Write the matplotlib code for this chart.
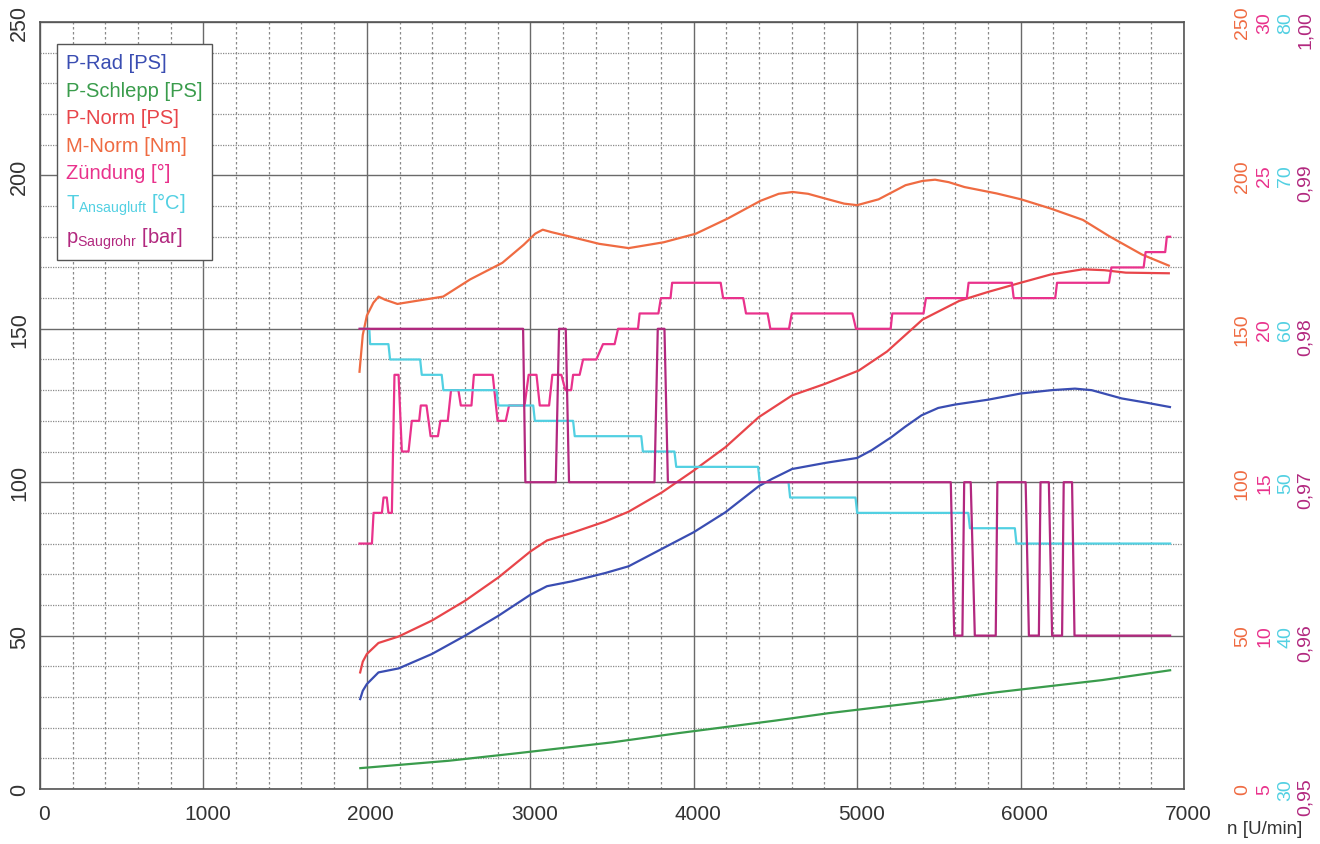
import matplotlib.pyplot as plt
import matplotlib.transforms as mtransforms
import numpy as np

# ---- data read from the dyno sheet ----
rpm_rad = [1959, 1975, 2000, 2071, 2194, 2398, 2602, 2806, 3000, 3102, 3255, 3459, 3602,
           3806, 4000, 4194, 4398, 4480, 4602, 4806, 5000, 5088, 5210, 5292, 5394, 5496,
           5598, 5802, 6000, 6190, 6333, 6435, 6619, 6761, 6914]
p_rad = [29.3, 32.0, 34.2, 38.0, 39.3, 44.0, 50.0, 56.5, 63.3, 66.1, 67.7, 70.4, 72.6,
         78.3, 83.7, 90.2, 98.7, 101.1, 104.3, 106.3, 107.9, 110.4, 114.7, 118.0, 121.8, 124.2,
         125.3, 126.9, 128.9, 130.0, 130.5, 130.0, 127.3, 126.0, 124.5]

rpm_schlepp = [1960, 2500, 2927, 3500, 3905, 4500, 4823, 5500, 5801, 6500, 6915]
p_schlepp = [6.8, 9.2, 11.7, 15.2, 18.2, 22.3, 24.7, 29.0, 31.2, 35.5, 38.7]

rpm_norm = [1959, 1975, 2000, 2071, 2194, 2398, 2602, 2806, 3000, 3102, 3255, 3459, 3602,
            3806, 4000, 4194, 4398, 4602, 4806, 5010, 5183, 5400, 5625, 5800, 5986, 6184,
            6381, 6513, 6644, 6907]
p_norm = [38.0, 41.5, 44.0, 47.6, 49.7, 54.9, 61.4, 69.0, 77.4, 81.0, 83.5, 87.2, 90.4,
          96.7, 103.8, 111.4, 121.2, 128.3, 132.1, 136.4, 142.6, 153.0, 159.1, 162.0, 164.8, 167.7,
          169.4, 169.1, 168.3, 168.1]

rpm_m = [1955, 1975, 2000, 2040, 2072, 2110, 2187, 2303, 2467, 2632, 2829, 2960, 3030,
         3076, 3130, 3224, 3421, 3602, 3816, 4013, 4210, 4408, 4520, 4605, 4700, 4802,
         4920, 5000, 5131, 5296, 5400, 5477, 5560, 5657, 5855, 6003, 6184, 6381, 6545,
         6743, 6907]
m_norm = [136.0, 148.0, 154.3, 158.5, 160.5, 159.5, 158.1, 159.1, 160.5, 166.1, 171.5, 177.4, 181.0,
          182.3, 181.5, 180.3, 177.7, 176.3, 178.2, 181.0, 186.0, 191.7, 194.0, 194.6, 194.0, 192.5,
          190.8, 190.3, 192.2, 196.8, 198.2, 198.6, 197.8, 196.2, 194.1, 192.2, 189.2, 185.5, 180.1,
          174.2, 170.6]

# step signals: (rpm from, rpm to, value)
zuendung = [(1955, 2031, 13.0), (2041, 2092, 14.0), (2102, 2122, 14.5), (2132, 2153, 14.0),
            (2169, 2194, 18.5), (2214, 2255, 16.0), (2275, 2320, 17.0), (2330, 2365, 17.5),
            (2390, 2435, 16.5), (2450, 2495, 17.0), (2515, 2560, 18.0), (2575, 2640, 17.5),
            (2655, 2770, 18.5), (2800, 2850, 17.0), (2870, 2965, 17.5), (2990, 3038, 18.5),
            (3058, 3115, 17.5), (3135, 3190, 18.5), (3215, 3250, 18.0), (3262, 3302, 18.5),
            (3323, 3404, 19.0), (3445, 3516, 19.5), (3537, 3659, 20.0), (3669, 3784, 20.5),
            (3799, 3858, 21.0), (3868, 4165, 21.5), (4180, 4303, 21.0), (4320, 4452, 20.5),
            (4469, 4583, 20.0), (4600, 4971, 20.5), (4993, 5205, 20.0), (5215, 5406, 20.5),
            (5421, 5671, 21.0), (5682, 5947, 21.5), (5958, 6212, 21.0), (6223, 6541, 21.5),
            (6556, 6753, 22.0), (6765, 6885, 22.5), (6895, 6915, 23.0)]

t_ansaug = [(1960, 2015, 60), (2020, 2132, 59), (2142, 2326, 58), (2336, 2458, 57),
            (2468, 2794, 56), (2804, 3018, 55), (3028, 3262, 54), (3272, 3679, 53),
            (3689, 3882, 52), (3893, 4394, 51), (4404, 4580, 50), (4590, 4990, 49),
            (5000, 5680, 48), (5690, 5965, 47), (5975, 6915, 46)]

p_saug = [(1955, 2956, 0.98), (2970, 3156, 0.97), (3176, 3217, 0.98), (3237, 3760, 0.97),
          (3780, 3821, 0.98), (3842, 5573, 0.97), (5594, 5644, 0.96), (5655, 5695, 0.97),
          (5720, 5848, 0.96), (5858, 6031, 0.97), (6051, 6112, 0.96), (6122, 6173, 0.97),
          (6193, 6254, 0.96), (6264, 6315, 0.97), (6330, 6915, 0.96)]

x_ticks = [0, 1000, 2000, 3000, 4000, 5000, 6000, 7000]

c_rad = '#3a4db2'
c_schlepp = '#3a9c4c'
c_norm = '#e8454a'
c_m = '#ef6b42'
c_z = '#e9328c'
c_t = '#52d0e2'
c_p = '#b2287f'


def steps(segs):
    xs, ys = [], []
    for a, b, v in segs:
        xs += [a, b]
        ys += [v, v]
    return xs, ys


plt.rcParams['font.family'] = ['Liberation Sans', 'DejaVu Sans']
plt.rcParams['mathtext.fontset'] = 'custom'
plt.rcParams['mathtext.rm'] = 'Liberation Sans'
plt.rcParams['mathtext.it'] = 'Liberation Sans:italic'

fig = plt.figure(figsize=(13.2, 8.45), dpi=100)
ax = fig.add_axes([40 / 1320, 55 / 845, 1144 / 1320, 767 / 845])

ax.set_xlim(0, 7000)
ax.set_ylim(0, 250)
ax.set_xticks(x_ticks)
ax.set_xticks(np.arange(0, 7001, 200), minor=True)
ax.set_yticks(np.arange(0, 251, 50))
ax.set_yticks(np.arange(0, 251, 10), minor=True)
ax.grid(which='major', color='#6a6a6a', lw=1.0)
ax.xaxis.grid(which='minor', color='#8a8a8a', lw=0.9, ls=(0, (2, 2)))
ax.yaxis.grid(which='minor', color='#8a8a8a', lw=0.9, ls=(0, (1, 1)))
ax.tick_params(which='both', length=0)
ax.tick_params(axis='y', labelrotation=90, labelsize=15.5, pad=7, labelcolor='#333333')
ax.tick_params(axis='x', labelsize=15, pad=11, labelcolor='#333333')
for lab in ax.get_xticklabels():
    lab.set_family(['Liberation Sans Narrow', 'Liberation Sans'])
    lab.set_transform(lab.get_transform() + mtransforms.ScaledTranslation(4 / 100, 0, fig.dpi_scale_trans))
for lab in ax.get_yticklabels():
    lab.set_va('center')
for s in ax.spines.values():
    s.set_color('#555555')
    s.set_linewidth(1.2)

h_rad, = ax.plot(rpm_rad, p_rad, color=c_rad, lw=1.6, label='P-Rad [PS]')
h_sch, = ax.plot(rpm_schlepp, p_schlepp, color=c_schlepp, lw=1.6, label='P-Schlepp [PS]')
h_norm, = ax.plot(rpm_norm, p_norm, color=c_norm, lw=1.6, label='P-Norm [PS]')


def twin(lo, hi, step, color, pad, fmt):
    a = ax.twinx()
    a.set_ylim(lo, hi)
    ticks = np.arange(lo, hi + step / 2, step)
    a.set_yticks(ticks)
    a.set_yticklabels([fmt(t) for t in ticks])
    a.tick_params(axis='y', length=0, labelrotation=90, labelsize=14, pad=pad, labelcolor=color)
    for lab in a.get_yticklabels():
        lab.set_va('center')
    for s in a.spines.values():
        s.set_visible(False)
    return a


ax_m = twin(0, 250, 50, c_m, 36, lambda t: '%d' % t)
ax_z = twin(5, 30, 5, c_z, 52, lambda t: '%d' % t)
ax_t = twin(30, 80, 10, c_t, 67, lambda t: '%d' % t)
ax_p = twin(0.95, 1.00, 0.01, c_p, 81, lambda t: ('%.2f' % t).replace('.', ','))
for lab in ax_p.get_yticklabels():
    lab.set_transform(lab.get_transform() + mtransforms.ScaledTranslation(0, -7 / 100, fig.dpi_scale_trans))

h_m, = ax_m.plot(rpm_m, m_norm, color=c_m, lw=1.6, label='M-Norm [Nm]')
zx, zy = steps(zuendung)
h_z, = ax_z.plot(zx, zy, color=c_z, lw=1.6, label='Zündung [°]')
tx, ty = steps(t_ansaug)
h_t, = ax_t.plot(tx, ty, color=c_t, lw=1.6, label=r'T$_{\mathrm{Ansaugluft}}$ [°C]')
px, py = steps(p_saug)
h_p, = ax_p.plot(px, py, color=c_p, lw=1.6, label=r'p$_{\mathrm{Saugrohr}}$ [bar]')

handles = [h_rad, h_sch, h_norm, h_m, h_z, h_t, h_p]
leg = ax_p.legend(handles=handles, loc='upper left', bbox_to_anchor=(0.015, 0.971),
                  borderaxespad=0, handlelength=0, handletextpad=0, fontsize=14.5,
                  labelspacing=0.42, fancybox=False, framealpha=1, edgecolor='#555555',
                  borderpad=0.45)
leg.get_frame().set_linewidth(1.0)
for h in leg.legend_handles:
    h.set_visible(False)
for txt, h in zip(leg.get_texts(), handles):
    txt.set_color(h.get_color())

fig.text(1265 / 1320, 1 - 830 / 845, 'n [U/min]', fontsize=13.5, color='#333333',
         ha='center', va='center')

fig.savefig('out.png', dpi=100)
